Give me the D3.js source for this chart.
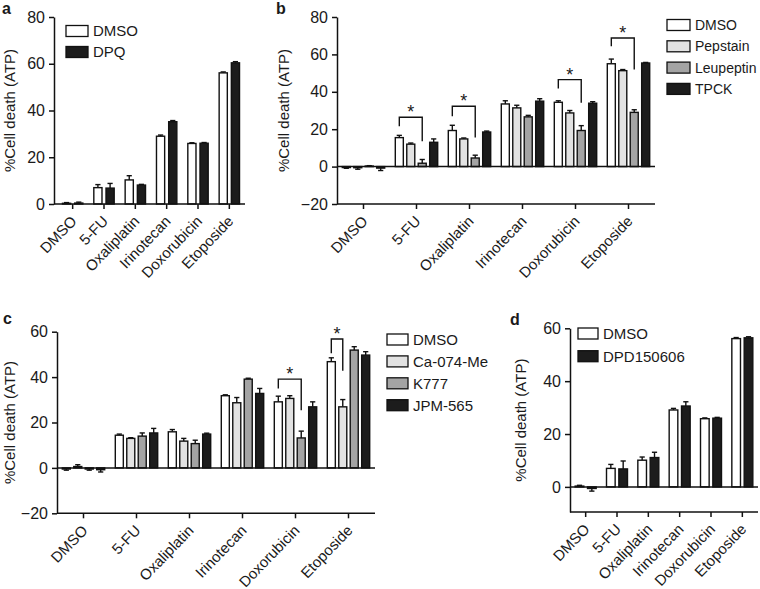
<!DOCTYPE html>
<html><head><meta charset="utf-8">
<script src="https://cdn.jsdelivr.net/npm/d3@7"></script>
<style>
body{margin:0;background:#fff;}
text{font-family:"Liberation Sans",Arial,Helvetica,sans-serif;fill:#1a1a1a;}
</style></head>
<body><svg id="chart" width="760" height="589"></svg>
<script>
// ---------- DATA ----------
const categories = ["DMSO","5-FU","Oxaliplatin","Irinotecan","Doxorubicin","Etoposide"];

// panel a
const aSeries = ["DMSO","DPQ"];
const aDMSO    = [0.3, 7.0, 10.3, 29.0, 25.9, 56.1];
const aDMSOErr = [0.3, 1.3, 1.8, 0.5, 0.3, 0.4];
const aDPQ     = [0.4, 6.8, 8.1, 35.2, 26.0, 60.4];
const aDPQErr  = [0.4, 2.0, 0.3, 0.5, 0.3, 0.5];
const aTicks = [0, 20, 40, 60, 80];

// panel b
const bSeries = ["DMSO","Pepstain","Leupeptin","TPCK"];
const bDMSO     = [-0.5, 15.5, 19.3, 33.5, 34.4, 55.0];
const bDMSOErr  = [0.4, 1.2, 2.8, 1.7, 0.8, 2.5];
const bPep      = [-0.6, 12.0, 14.8, 31.4, 28.7, 51.3];
const bPepErr   = [0.8, 0.6, 0.5, 1.4, 1.3, 0.6];
const bLeu      = [0.3, 1.8, 4.6, 26.6, 19.3, 29.0];
const bLeuErr   = [0.2, 2.0, 1.5, 0.8, 2.6, 1.4];
const bTPCK     = [-0.8, 13.0, 18.5, 35.0, 33.9, 55.4];
const bTPCKErr  = [1.3, 1.8, 0.5, 1.3, 0.8, 0.3];
const bTicks = [-20, 0, 20, 40, 60, 80];
// significance brackets: category, from series, to series, top, left-leg end, right-leg end
const bBrackets = [
  ["5-FU", 0, 2, 26.4, 21.6, 13.6],
  ["Oxaliplatin", 0, 2, 32.3, 26.9, 15.5],
  ["Doxorubicin", 0, 2, 46.5, 41.7, 34.2],
  ["Etoposide", 0, 2, 68.8, 64.3, 51.9]
];

// panel c
const cSeries = ["DMSO","Ca-074-Me","K777","JPM-565"];
const cDMSO    = [-0.5, 14.4, 15.9, 31.8, 29.1, 46.8];
const cDMSOErr = [0.5, 0.5, 1.0, 0.4, 2.5, 1.7];
const cCa      = [0.6, 13.0, 11.8, 28.7, 30.6, 26.9];
const cCaErr   = [0.8, 0.3, 1.2, 2.3, 1.2, 3.2];
const cK       = [-0.5, 14.0, 10.7, 39.1, 13.2, 51.9];
const cKErr    = [0.5, 1.4, 1.5, 0.4, 3.0, 1.5];
const cJPM     = [-0.8, 15.4, 14.9, 32.8, 26.9, 49.7];
const cJPMErr  = [1.0, 2.0, 0.4, 2.2, 2.2, 1.5];
const cTicks = [-20, 0, 20, 40, 60];
const cBrackets = [
  ["Doxorubicin", 0, 2, 39.1, 35.0, 25.4],
  ["Etoposide", 0, 1, 56.8, 50.5, 42.8]
];

// panel d
const dSeries = ["DMSO","DPD150606"];
const dDMSO    = [0.3, 7.0, 10.1, 29.1, 25.8, 56.1];
const dDMSOErr = [0.3, 1.5, 1.2, 0.6, 0.3, 0.4];
const dDPD     = [-0.6, 6.8, 11.1, 30.6, 26.0, 56.4];
const dDPDErr  = [1.0, 3.0, 2.0, 1.6, 0.3, 0.4];
const dTicks = [0, 20, 40, 60];

// ---------- STYLE ----------
const fillWhite = "#ffffff", fillLight = "#e2e2e2", fillGray = "#a4a4a4", fillBlack = "#1c1c1c";
const svg = d3.select("#chart");

function panel(cfg) {
  const g = svg.append("g");
  const y = d3.scaleLinear().domain(cfg.yDomain).range([cfg.yBottom, cfg.yTop]);
  const x0 = d3.scaleBand().domain(categories).range(cfg.xRange).paddingInner(cfg.groupPad).paddingOuter(cfg.groupPad/2);
  const x1 = d3.scaleBand().domain(d3.range(cfg.values.length)).range([0, x0.bandwidth()]).paddingInner(cfg.barPad);
  const axisY = y(cfg.yDomain[0]);

  cfg.values.forEach((vals, s) => {
    vals.forEach((v, i) => {
      const cx = x0(categories[i]) + x1(s) + x1.bandwidth()/2;
      const e = cfg.errors[s][i];
      const sign = v >= 0 ? 1 : -1;
      g.append("line").attr("x1", cx).attr("x2", cx).attr("y1", y(v)).attr("y2", y(v + sign*e))
        .attr("stroke", "#111").attr("stroke-width", 1.4);
      g.append("line").attr("x1", cx - 2.6).attr("x2", cx + 2.6).attr("y1", y(v + sign*e)).attr("y2", y(v + sign*e))
        .attr("stroke", "#111").attr("stroke-width", 1.4);
      g.append("rect")
        .attr("x", x0(categories[i]) + x1(s))
        .attr("y", Math.min(y(v), y(0)))
        .attr("width", x1.bandwidth())
        .attr("height", Math.abs(y(v) - y(0)))
        .attr("fill", cfg.colors[s]).attr("stroke", "#111").attr("stroke-width", 1.4);
    });
  });

  if (cfg.yDomain[0] < 0) {
    g.append("line").attr("x1", cfg.axisX).attr("x2", cfg.xRange[1]).attr("y1", y(0)).attr("y2", y(0))
      .attr("stroke", "#111").attr("stroke-width", 1.5);
  }

  const ya = g.append("g").attr("transform", `translate(${cfg.axisX},0)`)
    .call(d3.axisLeft(y).tickValues(cfg.yTicks).tickSize(5).tickSizeOuter(0).tickPadding(4));
  ya.attr("font-size", null).attr("font-family", null);
  ya.select(".domain").attr("stroke", "#111").attr("stroke-width", 1.5);
  ya.selectAll(".tick line").attr("stroke", "#111").attr("stroke-width", 1.5);
  ya.selectAll(".tick text").style("font-size", "16px").attr("fill", "#1a1a1a");

  const xa = g.append("g").attr("transform", `translate(0,${axisY})`)
    .call(d3.axisBottom(x0).tickSize(5).tickSizeOuter(0));
  xa.attr("font-size", null).attr("font-family", null);
  xa.select(".domain").remove();
  xa.selectAll(".tick line").attr("stroke", "#111").attr("stroke-width", 1.5);
  xa.selectAll(".tick text").style("font-size", "15px").attr("fill", "#1a1a1a")
    .attr("text-anchor", "end").attr("y", 0).attr("dy", 0)
    .attr("transform", "translate(5,18) rotate(-46)");
  g.append("line").attr("x1", cfg.axisX).attr("x2", cfg.xRange[1]).attr("y1", axisY).attr("y2", axisY)
    .attr("stroke", "#111").attr("stroke-width", 1.5);

  (cfg.brackets || []).forEach(b => {
    const [cat, s1, s2, top, l, r] = b;
    const xl = x0(cat) + x1(s1) + x1.bandwidth()/2;
    const xr = x0(cat) + x1(s2) + x1.bandwidth()/2;
    g.append("path")
      .attr("d", `M${xl},${y(l)}V${y(top)}H${xr}V${y(r)}`)
      .attr("fill", "none").attr("stroke", "#111").attr("stroke-width", 1.4);
    g.append("text").attr("x", (xl + xr)/2).attr("y", y(top) + 1)
      .attr("text-anchor", "middle").style("font-size", "18px").text("*");
  });

  cfg.series.forEach((name, s) => {
    const ly = cfg.legend.y + s*cfg.legend.step;
    g.append("rect").attr("x", cfg.legend.x).attr("y", ly - 5.5).attr("width", cfg.legend.w).attr("height", 11)
      .attr("fill", cfg.colors[s]).attr("stroke", "#111").attr("stroke-width", 1.3);
    g.append("text").attr("x", cfg.legend.x + cfg.legend.w + 5).attr("y", ly)
      .attr("dy", "0.36em").style("font-size", cfg.legend.fs + "px").text(name);
  });

  g.append("text").attr("transform", `translate(${cfg.titleX},${(cfg.yTop + cfg.yBottom)/2}) rotate(-90)`)
    .attr("text-anchor", "middle").attr("dy", "0.35em").style("font-size", "15px").text("%Cell death (ATP)");
  g.append("text").attr("x", cfg.letterX).attr("y", cfg.letterY)
    .style("font-size", "16px").style("font-weight", "bold").attr("fill", "#111").text(cfg.letter);
}

panel({
  letter: "a", letterX: 2, letterY: 14,
  series: aSeries, values: [aDMSO, aDPQ], errors: [aDMSOErr, aDPQErr],
  colors: [fillWhite, fillBlack],
  yDomain: [0, 80], yTicks: aTicks, yTop: 17, yBottom: 204,
  axisX: 54, xRange: [57, 245], groupPad: 0.35, barPad: 0.33,
  legend: {x: 66, y: 31, step: 21, w: 22, fs: 15}, titleX: 10
});
panel({
  letter: "b", letterX: 276, letterY: 14,
  series: bSeries, values: [bDMSO, bPep, bLeu, bTPCK], errors: [bDMSOErr, bPepErr, bLeuErr, bTPCKErr],
  colors: [fillWhite, fillLight, fillGray, fillBlack],
  yDomain: [-20, 80], yTicks: bTicks, yTop: 17, yBottom: 204,
  axisX: 337, xRange: [337, 655], groupPad: 0.2, barPad: 0.3,
  legend: {x: 667, y: 25, step: 21.3, w: 23, fs: 14}, titleX: 284,
  brackets: bBrackets
});
panel({
  letter: "c", letterX: 3, letterY: 324,
  series: cSeries, values: [cDMSO, cCa, cK, cJPM], errors: [cDMSOErr, cCaErr, cKErr, cJPMErr],
  colors: [fillWhite, fillLight, fillGray, fillBlack],
  yDomain: [-20, 60], yTicks: cTicks, yTop: 331.7, yBottom: 513.3,
  axisX: 57, xRange: [57, 375], groupPad: 0.2, barPad: 0.3,
  legend: {x: 387, y: 339.5, step: 21.9, w: 21, fs: 15}, titleX: 10,
  brackets: cBrackets
});
panel({
  letter: "d", letterX: 510, letterY: 325,
  series: dSeries, values: [dDMSO, dDPD], errors: [dDMSOErr, dDPDErr],
  colors: [fillWhite, fillBlack],
  yDomain: [-9.5, 60], yTicks: dTicks, yTop: 328.3, yBottom: 512,
  axisX: 570, xRange: [570, 758], groupPad: 0.33, barPad: 0.3,
  legend: {x: 578, y: 333.5, step: 22.7, w: 20, fs: 15}, titleX: 521
});
</script></body></html>
